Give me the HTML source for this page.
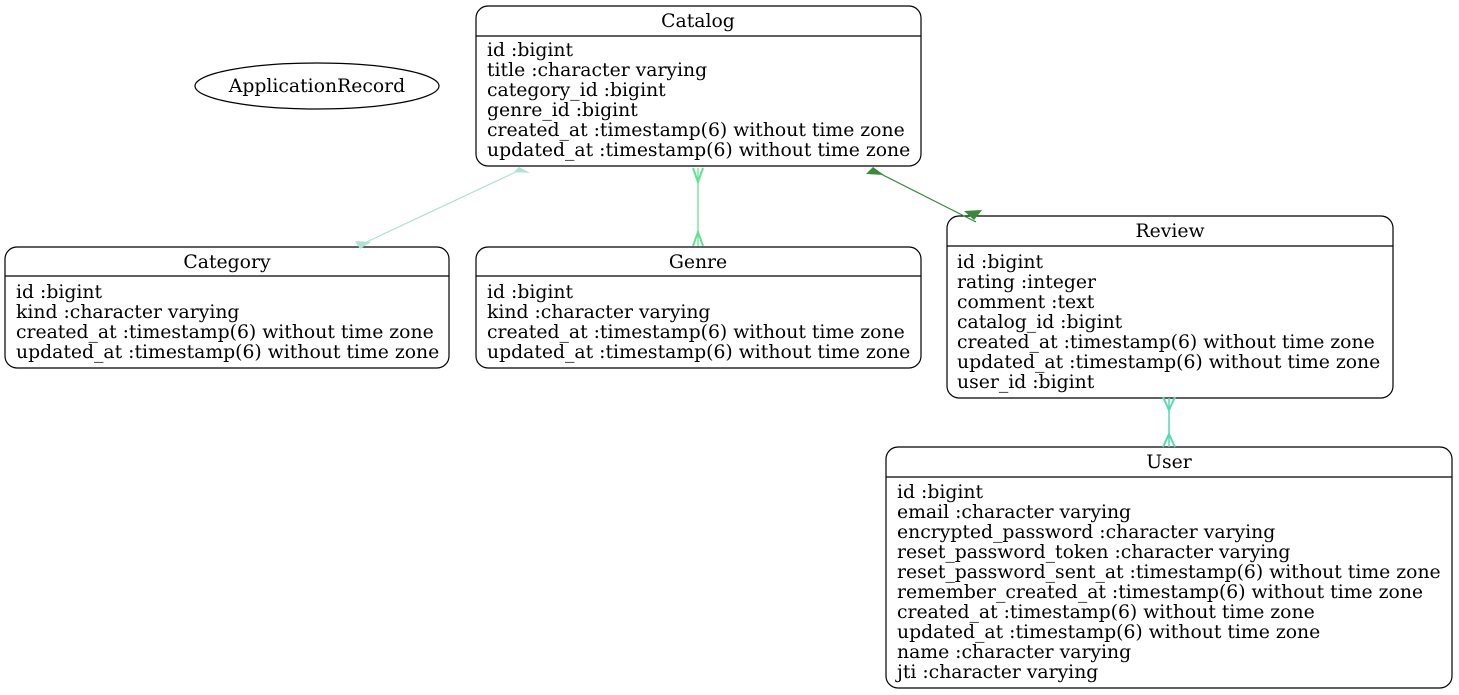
<!DOCTYPE html>
<html><head><meta charset="utf-8"><style>
body{margin:0;background:#fff;}
svg{display:block;font-family:"DejaVu Serif","Liberation Serif",serif;font-size:18.8px;}
</style></head><body>
<svg width="1459" height="695" viewBox="0 0 1459 695" xmlns="http://www.w3.org/2000/svg">
<g fill="none" stroke="#000" stroke-width="1.2">
<ellipse cx="317" cy="86" rx="122" ry="23"/>
<rect x="476" y="6" width="445" height="160" rx="12"/><line x1="476" y1="36" x2="921" y2="36"/>
<rect x="5" y="247" width="444" height="121" rx="12"/><line x1="5" y1="276" x2="449" y2="276"/>
<rect x="476" y="247" width="445" height="121" rx="12"/><line x1="476" y1="276" x2="921" y2="276"/>
<rect x="947" y="216" width="446" height="182" rx="12"/><line x1="947" y1="246" x2="1393" y2="246"/>
<rect x="886" y="447" width="566" height="241" rx="12"/><line x1="886" y1="477" x2="1452" y2="477"/>
</g>
<g stroke-width="1.2">
<line x1="520" y1="170" x2="358" y2="246" stroke="#aee3d3"/>
<polygon points="514,172 530,173 519,167" fill="#aee3d3"/>
<polygon points="355,241 371,242 360,249" fill="#aee3d3"/>
<line x1="698" y1="168" x2="698" y2="246" stroke="#5ee38f"/>
<polyline points="693,168 698,182 703,168" fill="none" stroke="#5ee38f" stroke-width="2"/>
<polyline points="693,246 698,232 703,246" fill="none" stroke="#5ee38f" stroke-width="2"/>
<line x1="873" y1="170" x2="976" y2="222" stroke="#3a8a3a"/>
<polygon points="873,167 866,174 884,175" fill="#3a8a3a"/>
<polygon points="964,211 982,210 974,220" fill="#3a8a3a"/>
<line x1="1169" y1="398" x2="1169" y2="447" stroke="#55dbb0" stroke-width="1.5"/>
<polyline points="1163,397 1169,410 1175,397" fill="none" stroke="#55dbb0" stroke-width="2"/>
<polyline points="1163,447 1169,434 1175,447" fill="none" stroke="#55dbb0" stroke-width="2"/>
</g>
<g fill="#000">
<text x="317" y="92" text-anchor="middle">ApplicationRecord</text>
<text x="698" y="27" text-anchor="middle">Catalog</text>
<text x="487" y="56">id :bigint</text>
<text x="487" y="76">title :character varying</text>
<text x="487" y="96">category_id :bigint</text>
<text x="487" y="116">genre_id :bigint</text>
<text x="487" y="136">created_at :timestamp(6) without time zone</text>
<text x="487" y="156">updated_at :timestamp(6) without time zone</text>
<text x="227" y="268" text-anchor="middle">Category</text>
<text x="16" y="298">id :bigint</text>
<text x="16" y="318">kind :character varying</text>
<text x="16" y="338">created_at :timestamp(6) without time zone</text>
<text x="16" y="358">updated_at :timestamp(6) without time zone</text>
<text x="698" y="268" text-anchor="middle">Genre</text>
<text x="487" y="298">id :bigint</text>
<text x="487" y="318">kind :character varying</text>
<text x="487" y="338">created_at :timestamp(6) without time zone</text>
<text x="487" y="358">updated_at :timestamp(6) without time zone</text>
<text x="1170" y="237" text-anchor="middle">Review</text>
<text x="957" y="268">id :bigint</text>
<text x="957" y="288">rating :integer</text>
<text x="957" y="308">comment :text</text>
<text x="957" y="328">catalog_id :bigint</text>
<text x="957" y="348">created_at :timestamp(6) without time zone</text>
<text x="957" y="368">updated_at :timestamp(6) without time zone</text>
<text x="957" y="388">user_id :bigint</text>
<text x="1169" y="468" text-anchor="middle">User</text>
<text x="897" y="498">id :bigint</text>
<text x="897" y="518">email :character varying</text>
<text x="897" y="538">encrypted_password :character varying</text>
<text x="897" y="558">reset_password_token :character varying</text>
<text x="897" y="578">reset_password_sent_at :timestamp(6) without time zone</text>
<text x="897" y="598">remember_created_at :timestamp(6) without time zone</text>
<text x="897" y="618">created_at :timestamp(6) without time zone</text>
<text x="897" y="638">updated_at :timestamp(6) without time zone</text>
<text x="897" y="658">name :character varying</text>
<text x="897" y="678">jti :character varying</text>
</g>
</svg>
</body></html>
